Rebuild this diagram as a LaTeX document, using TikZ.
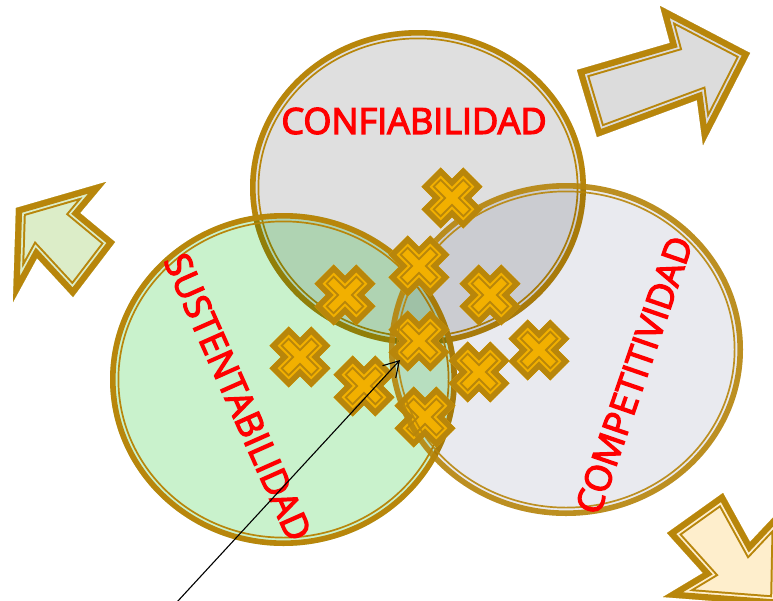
\documentclass[tikz,border=0pt]{standalone}
\usepackage{fontspec}
\setmainfont{Open Sans}
\newfontfamily\lblfont[FakeBold=3.5]{Open Sans}
\usetikzlibrary{arrows.meta}
\definecolor{gold}{RGB}{184,134,11}
\definecolor{topfill}{RGB}{223,223,223}
\definecolor{leftfill}{RGB}{201,242,204}
\definecolor{rightfill}{RGB}{233,234,239}
\definecolor{xyellow}{RGB}{242,176,0}
\definecolor{trfill}{RGB}{220,220,220}
\definecolor{tlfill}{RGB}{220,237,200}
\definecolor{brfill}{RGB}{254,238,204}
\definecolor{lblred}{RGB}{255,0,0}
% banded polygon: #1 fill colour, #2 path, #3 #4 #5 stroke widths
\newcommand{\bandshape}[5]{%
  \begin{scope}
    \clip #2 -- cycle;
    \fill[#1] #2 -- cycle;
    \draw[gold,line width=#3,line join=miter,miter limit=20] #2 -- cycle;
    \draw[#1,line width=#4,line join=miter,miter limit=20] #2 -- cycle;
    \draw[gold,line width=#5,line join=miter,miter limit=20] #2 -- cycle;
  \end{scope}}
\newcommand{\xcross}[2]{%
  \begin{scope}[shift={(#1,#2)},rotate=45]
    \bandshape{xyellow}{(13.5,13.5) -- (29.5,13.5) -- (29.5,-13.5) -- (13.5,-13.5) -- (13.5,-29.5) -- (-13.5,-29.5) -- (-13.5,-13.5) -- (-29.5,-13.5) -- (-29.5,13.5) -- (-13.5,13.5) -- (-13.5,29.5) -- (13.5,29.5)}{19pt}{15pt}{11pt}
  \end{scope}}
\tikzset{
  lbl/.style={text=lblred,inner sep=0pt,font=\lblfont\fontsize{36}{36}\selectfont},
  rimthick/.style={draw=gold,line width=5.6pt},
  rimthin/.style={draw=gold,line width=1.7pt},
}
\begin{document}
\begin{tikzpicture}[x=1pt,y=-1pt]
\useasboundingbox (0,0) rectangle (773,600);
\clip (0,0) rectangle (773,600);
% top circle
\fill[topfill] (418,187.5) ellipse [x radius=168pt,y radius=157.5pt];
\draw[rimthick] (418,187.5) ellipse [x radius=165.2pt,y radius=154.7pt];
\draw[rimthin] (418,187.5) ellipse [x radius=159.6pt,y radius=149.1pt];
% left circle
\begin{scope}[blend mode=multiply]
\fill[leftfill] (283.5,379.5) ellipse [x radius=173.5pt,y radius=166.5pt];
\end{scope}
\draw[rimthick] (283.5,379.5) ellipse [x radius=170.7pt,y radius=163.7pt];
\draw[rimthin] (283.5,379.5) ellipse [x radius=165.1pt,y radius=158.1pt];
% right circle fill
\begin{scope}[blend mode=multiply]
\fill[rightfill] (566,349.5) ellipse [x radius=177pt,y radius=166.5pt];
\end{scope}
% crosses under the right rim
\xcross{345}{295}
\xcross{490}{295}
\xcross{300}{357}
\xcross{419}{341}
\xcross{539}{350}
\xcross{364}{386}
\xcross{479}{372}
\xcross{425}{417}
% right rim
\begin{scope}[opacity=0.9]
\draw[rimthick] (566,349.5) ellipse [x radius=174.2pt,y radius=163.7pt];
\draw[rimthin] (566,349.5) ellipse [x radius=168.6pt,y radius=158.1pt];
\end{scope}
% crosses above
\xcross{452}{198}
\xcross{419}{266}
% block arrows
\bandshape{trfill}{(597,137) -- (577,70) -- (670,43) -- (660,6) -- (750,53) -- (703,145) -- (697,100)}{20pt}{16pt}{12.4pt}
\bandshape{tlfill}{(16,208) -- (106,182) -- (80,213) -- (115,242) -- (73,297) -- (37,258) -- (13,302)}{20pt}{16pt}{12.4pt}
\bandshape{brfill}{(723,493) -- (667,533) -- (703,573) -- (663,597) -- (780,606) -- (782,508) -- (750,542)}{20pt}{16pt}{12.4pt}
% labels
\node[lbl] (conf) at (414,121) {CONFIABILIDAD};
\node[lbl,rotate=-66] (sust) at (238,397) {SUSTENTABILIDAD};
\node[lbl,rotate=71] (comp) at (634,375) {COMPETITIVIDAD};
% pointer
\coordinate (src) at (177,602);
\coordinate (tgt) at (400,360);
\draw[line width=1.1pt,-{Straight Barb[length=15pt,width=18pt]}] (src) -- (tgt);
\end{tikzpicture}
\end{document}
